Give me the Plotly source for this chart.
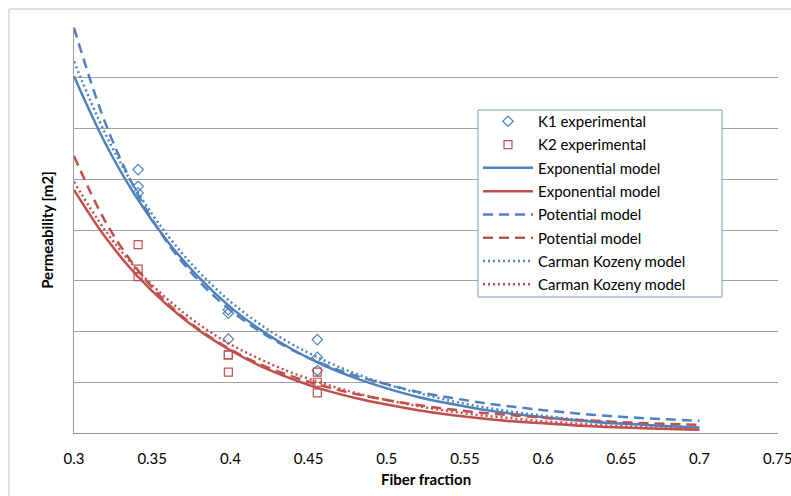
import plotly.graph_objects as go

# ---------------- data ----------------
x_model = [0.30, 0.32, 0.34, 0.36, 0.38, 0.40, 0.42, 0.44, 0.46, 0.48, 0.50,
           0.52, 0.54, 0.56, 0.58, 0.60, 0.62, 0.64, 0.66, 0.68, 0.70]

k1_exponential = [7.03, 5.71, 4.64, 3.77, 3.06, 2.48, 2.02, 1.64, 1.33, 1.08, 0.88,
                  0.71, 0.58, 0.47, 0.38, 0.31, 0.25, 0.20, 0.17, 0.135, 0.11]
k2_exponential = [4.79, 3.86, 3.11, 2.51, 2.02, 1.63, 1.31, 1.06, 0.85, 0.69, 0.56,
                  0.45, 0.36, 0.29, 0.23, 0.19, 0.15, 0.12, 0.098, 0.079, 0.064]
k1_potential = [7.98, 6.11, 4.75, 3.74, 2.99, 2.42, 1.98, 1.63, 1.35, 1.13, 0.96,
                0.81, 0.70, 0.60, 0.52, 0.45, 0.39, 0.34, 0.30, 0.27, 0.24]
k2_potential = [5.46, 4.17, 3.24, 2.55, 2.04, 1.65, 1.34, 1.11, 0.92, 0.77, 0.65,
                0.55, 0.47, 0.40, 0.35, 0.30, 0.26, 0.23, 0.20, 0.18, 0.16]
k1_carman_kozeny = [7.32, 5.90, 4.78, 3.89, 3.17, 2.59, 2.12, 1.74, 1.43, 1.17, 0.96,
                    0.79, 0.64, 0.52, 0.42, 0.34, 0.27, 0.22, 0.17, 0.136, 0.106]
k2_carman_kozeny = [4.95, 3.99, 3.23, 2.63, 2.14, 1.75, 1.44, 1.18, 0.97, 0.79, 0.65,
                    0.53, 0.43, 0.35, 0.29, 0.23, 0.19, 0.15, 0.12, 0.09, 0.07]

x_exp = [0.341, 0.341, 0.341, 0.3987, 0.3987, 0.3987, 0.4556, 0.4556, 0.4556]
k1_experimental = [5.19, 4.86, 4.73, 2.43, 2.36, 1.85, 1.84, 1.49, 1.23]
k2_experimental = [3.71, 3.23, 3.08, 1.54, 1.54, 1.20, 1.20, 1.00, 0.79]

x_tick_vals = [0.3, 0.35, 0.4, 0.45, 0.5, 0.55, 0.6, 0.65, 0.7, 0.75]
x_tick_text = ["0.3", "0.35", "0.4", "0.45", "0.5", "0.55", "0.6", "0.65", "0.7", "0.75"]

# ---------------- styling ----------------
BLUE = "#4F81BD"
RED = "#C0504D"
FONT = "Lato"
LW = 2.5
DASH = "10px,6px"
DOT = "2px,3px"

# plot-area geometry in pixels (for paper-coordinate decorations)
L, R, T, B = 74, 778, 27, 433
W, H = R - L, B - T


def px_x(p):
    return (p - L) / W


def px_y(p):
    return (B - p) / H


fig = go.Figure()

fig.add_trace(go.Scatter(x=x_exp, y=k1_experimental, mode="markers", name="K1 experimental",
                         legendgroup="a",
                         marker=dict(symbol="diamond-open", size=8, color=BLUE, line=dict(width=1.2))))
fig.add_trace(go.Scatter(x=x_exp, y=k2_experimental, mode="markers", name="K2 experimental",
                         legendgroup="b",
                         marker=dict(symbol="square-open", size=8, color=RED, line=dict(width=1.2))))

lines = [
    ("Exponential model", k1_exponential, BLUE, "solid", "c"),
    ("Exponential model", k2_exponential, RED, "solid", "d"),
    ("Potential model", k1_potential, BLUE, DASH, "e"),
    ("Potential model", k2_potential, RED, DASH, "f"),
    ("Carman Kozeny model", k1_carman_kozeny, BLUE, DOT, "g"),
    ("Carman Kozeny model", k2_carman_kozeny, RED, DOT, "h"),
]
for name, ys, col, dash, grp in lines:
    fig.add_trace(go.Scatter(x=x_model, y=ys, mode="lines", name=name, legendgroup=grp,
                             line=dict(color=col, width=LW, dash=dash, shape="spline")))

fig.update_layout(
    width=791, height=496,
    margin=dict(l=L, r=791 - R, t=T, b=496 - B),
    paper_bgcolor="white", plot_bgcolor="white",
    font=dict(family=FONT, size=15, color="black"),
    showlegend=True,
    legend=dict(x=px_x(478), y=px_y(105), xanchor="left", yanchor="top",
                borderwidth=0, bgcolor="rgba(0,0,0,0)",
                font=dict(family=FONT, size=15, color="black"),
                tracegroupgap=0.8, itemwidth=50),
    xaxis=dict(range=[0.3, 0.7502], tickvals=x_tick_vals, ticktext=x_tick_text,
               automargin=False, ticklabeloverflow="allow",
               showgrid=False, zeroline=False, showline=True, linecolor="#9C9C9C",
               linewidth=1, ticks="outside", ticklen=12, tickcolor="rgba(0,0,0,0)",
               tickfont=dict(family=FONT, size=15, color="black"),
               title=dict(text="<b>Fiber fraction</b>", font=dict(family=FONT, size=15),
                          standoff=8)),
    yaxis=dict(range=[0, 8], dtick=1, showticklabels=False, showgrid=True,
               automargin=False,
               gridcolor="#A0A0A0", gridwidth=1, zeroline=False, showline=True,
               linecolor="#9C9C9C", linewidth=1,
               title=dict(text="<b>Permeability [m2]</b>", font=dict(family=FONT, size=15))),
)

# outer chart border
fig.add_shape(type="rect", xref="paper", yref="paper",
              x0=px_x(9), x1=px_x(800), y0=px_y(505), y1=px_y(9),
              line=dict(color="#BFBFBF", width=1), fillcolor="rgba(0,0,0,0)", layer="below")
# legend box
fig.add_shape(type="rect", xref="paper", yref="paper",
              x0=px_x(478), x1=px_x(722), y0=px_y(297), y1=px_y(110),
              line=dict(color="#7A9CC8", width=1), fillcolor="white", layer="above")

fig.write_html("out.html")
